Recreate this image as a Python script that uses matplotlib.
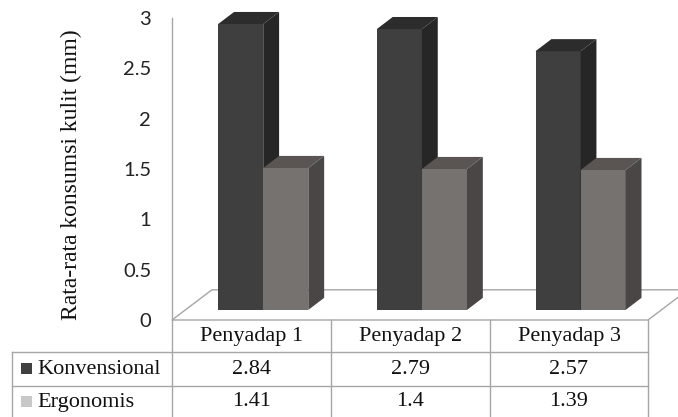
import matplotlib.pyplot as plt
from matplotlib.patches import Polygon

categories = ["Penyadap 1", "Penyadap 2", "Penyadap 3"]
series_names = ["Konvensional", "Ergonomis"]
konvensional = [2.84, 2.79, 2.57]
ergonomis = [1.41, 1.40, 1.39]
yticks = [0, 0.5, 1, 1.5, 2, 2.5, 3]
ytick_labels = ["0", "0.5", "1", "1.5", "2", "2.5", "3"]

plt.rcParams["font.serif"] = ["Liberation Serif", "DejaVu Serif"]

# front / side / top shades per series, legend key colour
front = ["#3f3f3f", "#767270"]
side = ["#262626", "#4a4645"]
top = ["#2c2c2c", "#5a5553"]
key = ["#404040", "#c8c8c8"]
line_gray = "#a6a6a6"

W, H = 678, 417
fig = plt.figure(figsize=(W / 100, H / 100), dpi=100)

# chart area: 3 category columns between x=172..648 px, value 0..3 between y=320..18 px
ax = fig.add_axes([172 / W, (H - 320) / H, (648 - 172) / W, (320 - 18) / H])
ax.set_xlim(0, 3)
ax.set_ylim(0, 3)

bw = 0.284      # bar width (category units)
dx, dy = 0.10, 0.12   # bar depth offsets
xs, ys = 0.075, 0.10  # bars sit a little back on the floor
fdx, fdy = 0.252, 0.30  # floor depth

# floor outline
floor = Polygon([(0, 0), (3, 0), (3 + fdx, fdy), (fdx, fdy)], closed=True,
                fill=False, edgecolor=line_gray, lw=1.0, clip_on=False, zorder=1)
ax.add_patch(floor)

for i in range(len(categories)):
    for s, vals in enumerate([konvensional, ergonomis]):
        x0 = i + 0.5 + xs + (s - 1) * bw
        x1 = x0 + bw
        h = vals[i]
        t = ys + h
        ax.bar(x0, h, width=bw, bottom=ys, align="edge", color=front[s],
               edgecolor="none", clip_on=False, zorder=2 + s)
        ax.add_patch(Polygon([(x1, ys), (x1 + dx, ys + dy), (x1 + dx, t + dy), (x1, t)],
                             closed=True, facecolor=side[s], edgecolor="none",
                             clip_on=False, zorder=2 + s))
        ax.add_patch(Polygon([(x0, t), (x0 + dx, t + dy), (x1 + dx, t + dy), (x1, t)],
                             closed=True, facecolor=top[s], edgecolor="none",
                             clip_on=False, zorder=2 + s))

for sp in ["top", "right", "bottom"]:
    ax.spines[sp].set_visible(False)
ax.spines["left"].set_color(line_gray)
ax.spines["left"].set_linewidth(1.0)
ax.set_xticks([])
ax.set_yticks(yticks)
ax.set_yticklabels(ytick_labels, fontfamily="Lato", fontsize=14.5, color="#222222")
ax.tick_params(axis="y", length=0, pad=15)
ax.patch.set_alpha(0)

fig.text(71 / W, 1 - 175 / H, "Rata-rata konsumsi kulit (mm)", rotation=90,
         ha="center", va="center", family="serif", fontsize=17,
         color="#111111")

# data table below the chart, in pixel coordinates
tb = fig.add_axes([0, 0, 1, 1], zorder=-1)
tb.set_xlim(0, W)
tb.set_ylim(H, 0)
tb.axis("off")

cols = [172, 331, 490, 648]
rows = [320, 352, 386]
for x in cols:
    tb.plot([x, x], [320, H], color=line_gray, lw=1.0)
for y in rows[1:]:
    tb.plot([12, cols[-1]], [y, y], color=line_gray, lw=1.0)
tb.plot([12, 12], [352, H], color=line_gray, lw=1.0)

tfont = dict(family="serif", fontsize=16, color="#111111")
for j, c in enumerate(categories):
    cx = (cols[j] + cols[j + 1]) / 2
    tb.text(cx, 337, c, ha="center", va="center", **tfont)
    tb.text(cx, 370, f"{konvensional[j]:g}", ha="center", va="center", **tfont)
    tb.text(cx, 402, f"{ergonomis[j]:g}", ha="center", va="center", **tfont)

for s, (name, yc) in enumerate(zip(series_names, [369, 402])):
    tb.add_patch(plt.Rectangle((21, yc - 6), 11, 11, facecolor=key[s], edgecolor="none"))
    tb.text(37, yc, name, ha="left", va="center", **tfont)

fig.savefig("out.png", dpi=100)
